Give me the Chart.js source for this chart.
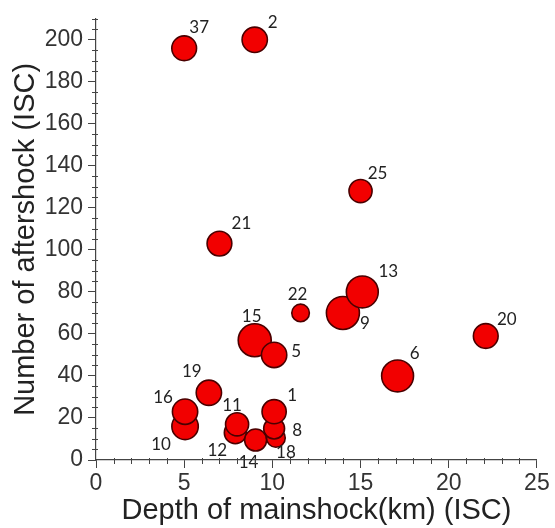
<!DOCTYPE html>
<html>
<head>
<meta charset="utf-8">
<script src="https://cdn.jsdelivr.net/npm/chart.js@4/dist/chart.umd.min.js"></script>
<style>
  html, body { margin: 0; padding: 0; background: #fff; }
  canvas { display: block; }
</style>
</head>
<body>
<canvas id="chart" width="555" height="528"></canvas>
<script>
// event ids, in drawing order (later ones sit on top)
const eventIds = ['37', '2', '25', '21', '22', '9', '13', '20', '15', '5', '6', '19', '10', '16', '12', '11', '14', '18', '8', '1'];
// depth of mainshock (km)
const depths = [5, 9, 15, 7, 11.6, 14, 15.1, 22.1, 9, 10.1, 17.1, 6.4, 5.05, 5.05, 7.9, 8, 9.05, 10.2, 10.1, 10.1];
// number of aftershocks
const aftershocks = [196, 200, 128, 103, 70, 70, 80, 59, 57, 50, 40, 32, 16, 23, 13, 17, 9.5, 10.5, 15, 23];
// mainshock magnitude (drives bubble size)
const magnitudes = [6.25, 6.3, 6.1, 6.25, 5.6, 7.0, 6.9, 6.25, 7.0, 6.3, 6.9, 6.3, 6.4, 6.3, 6.0, 6.1, 6.0, 5.7, 5.9, 6.2];

const xTicks = [0, 5, 10, 15, 20, 25];
const yTicks = [0, 20, 40, 60, 80, 100, 120, 140, 160, 180, 200];

// where each number label sits relative to its bubble (px)
const labelOffsets = {
    '37': [15, -21], '2': [18, -17], '25': [17, -18], '21': [22, -20], '22': [-3, -18],
    '9': [22, 11], '13': [26, -20], '20': [21, -17], '15': [-3, -24], '5': [22, -3],
    '6': [17, -22], '19': [-17, -21], '10': [-24, 18], '16': [-22, -14], '12': [-18, 18],
    '11': [-5, -19], '14': [-7, 22], '18': [10, 15], '8': [23, 2], '1': [18, -16]
};

const magToRadius = m => 5.5 * (m - 4);

const points = depths.map((d, i) => ({ x: d, y: aftershocks[i], r: magToRadius(magnitudes[i]) }));

const minorTicks = {
    id: 'minor_ticks',
    afterDraw: (chart) => {
        const { ctx, scales: { x, y } } = chart;
        ctx.save();
        ctx.strokeStyle = '#444';
        ctx.lineWidth = 1;
        ctx.beginPath();
        for (let v = 0; v <= 25; v += 1) {
            if (v % 5 === 0) continue;
            const px = Math.round(x.getPixelForValue(v)) + 0.5;
            ctx.moveTo(px, y.bottom - 2);
            ctx.lineTo(px, y.bottom + 4);
        }
        for (let v = 0; v <= 210; v += 5) {
            if (v % 20 === 0) continue;
            const py = Math.round(y.getPixelForValue(v)) + 0.5;
            ctx.moveTo(x.left - 4, py);
            ctx.lineTo(x.left + 2, py);
        }
        ctx.stroke();
        ctx.restore();
    }
};

const pointLabels = {
    id: 'point_labels',
    afterDatasetsDraw: (chart) => {
        const { ctx } = chart;
        const meta = chart.getDatasetMeta(0);
        ctx.save();
        ctx.font = '17px Lato, "Open Sans", sans-serif';
        ctx.fillStyle = '#222';
        ctx.textAlign = 'center';
        ctx.textBaseline = 'middle';
        meta.data.forEach((el, i) => {
            const id = eventIds[i];
            const [dx, dy] = labelOffsets[id] || [12, -12];
            ctx.fillText(id, el.x + dx, el.y + dy);
        });
        ctx.restore();
    }
};

const tickFont = { family: '"Liberation Sans", Arial, sans-serif', size: 23 };
const titleFont = { family: '"Liberation Sans", Arial, sans-serif', size: 29 };

new Chart(document.getElementById('chart'), {
    type: 'bubble',
    data: {
        datasets: [{
            data: points,
            backgroundColor: '#f20000',
            borderColor: '#4a0000',
            borderWidth: 1.6,
            hoverBorderWidth: 1.6
        }]
    },
    options: {
        responsive: false,
        animation: false,
        devicePixelRatio: 1,
        layout: { padding: { top: 14, right: 15, left: 0, bottom: 0 } },
        plugins: {
            legend: { display: false },
            tooltip: { enabled: false }
        },
        scales: {
            x: {
                type: 'linear',
                min: 0,
                max: 25,
                afterFit: s => { s.height = 68; },
                afterBuildTicks: s => { s.ticks = xTicks.map(v => ({ value: v })); },
                border: { display: true, color: '#444', width: 1.2 },
                grid: { drawOnChartArea: false, drawTicks: true, tickLength: 8, color: '#444' },
                ticks: { font: tickFont, color: '#333', padding: 2, maxRotation: 0 },
                title: {
                    display: true,
                    text: 'Depth of mainshock(km) (ISC)',
                    font: titleFont,
                    color: '#222',
                    padding: { top: 0, bottom: 0 }
                }
            },
            y: {
                type: 'linear',
                min: 0,
                max: 210,
                afterFit: s => { s.width = 96; },
                afterBuildTicks: s => { s.ticks = yTicks.map(v => ({ value: v })); },
                border: { display: true, color: '#444', width: 1.2 },
                grid: { drawOnChartArea: false, drawTicks: true, tickLength: 8, color: '#444' },
                ticks: { font: tickFont, color: '#333', padding: 5 },
                title: {
                    display: true,
                    text: 'Number of aftershock (ISC)',
                    font: titleFont,
                    color: '#222',
                    padding: { top: 9, bottom: 0 }
                }
            }
        }
    },
    plugins: [minorTicks, pointLabels]
});
</script>
</body>
</html>
